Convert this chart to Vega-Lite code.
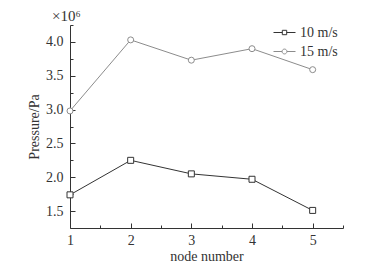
{
  "$schema": "https://vega.github.io/schema/vega-lite/v6.json",
  "autosize": "none",
  "width": 273,
  "height": 203,
  "padding": {"left": 70, "top": 25, "right": 23, "bottom": 40},
  "background": "white",
  "title": {"text": "×10⁶", "anchor": "start", "frame": "group", "dx": -18, "offset": -6, "font": "Liberation Serif", "fontSize": 15, "fontWeight": "normal", "color": "#333"},
  "data": {"values": [
    {"node": 1, "pressure": 1.74, "series": "10 m/s"},
    {"node": 2, "pressure": 2.25, "series": "10 m/s"},
    {"node": 3, "pressure": 2.05, "series": "10 m/s"},
    {"node": 4, "pressure": 1.97, "series": "10 m/s"},
    {"node": 5, "pressure": 1.51, "series": "10 m/s"},
    {"node": 1, "pressure": 2.98, "series": "15 m/s"},
    {"node": 2, "pressure": 4.03, "series": "15 m/s"},
    {"node": 3, "pressure": 3.73, "series": "15 m/s"},
    {"node": 4, "pressure": 3.90, "series": "15 m/s"},
    {"node": 5, "pressure": 3.59, "series": "15 m/s"}
  ]},
  "encoding": {
    "x": {"field": "node", "type": "quantitative",
      "scale": {"domain": [1, 5.5], "nice": false, "zero": false},
      "axis": {"title": "node  number", "values": [1, 1.5, 2, 2.5, 3, 3.5, 4, 4.5, 5, 5.5],
        "labelExpr": "datum.value % 1 == 0 ? format(datum.value, 'd') : ''",
        "tickSize": {"condition": {"test": "datum.value % 1 == 0", "value": -5}, "value": -3},
        "labelPadding": 10, "titlePadding": 0}},
    "y": {"field": "pressure", "type": "quantitative",
      "scale": {"domain": [1.25, 4.25], "nice": false, "zero": false},
      "axis": {"title": "Pressure/Pa", "values": [1.5, 1.75, 2, 2.25, 2.5, 2.75, 3, 3.25, 3.5, 3.75, 4, 4.25],
        "labelExpr": "(datum.value * 2) % 1 == 0 ? format(datum.value, '.1f') : ''",
        "tickSize": {"condition": {"test": "(datum.value * 2) % 1 == 0", "value": -5}, "value": -3},
        "labelPadding": 12, "titlePadding": 4}},
    "color": {"field": "series", "type": "nominal",
      "scale": {"domain": ["10 m/s", "15 m/s"], "range": ["#333333", "#8c8c8c"]}}
  },
  "layer": [
    {"mark": {"type": "line", "strokeWidth": 1},
     "encoding": {"color": {"field": "series", "type": "nominal",
        "scale": {"domain": ["10 m/s", "15 m/s"], "range": ["#333333", "#8c8c8c"]},
        "legend": {"orient": "none", "legendX": 203, "legendY": -4, "title": null,
          "symbolSize": 484, "labelFontSize": 14, "labelFont": "Liberation Serif", "labelColor": "#333",
          "rowPadding": -6, "labelOffset": 4,
          "encode": {"symbols": {"update": {
            "shape": {"signal": "datum.value == '10 m/s' ? 'M-1,0H-0.2M0.2,0H1M-0.2,-0.2H0.2V0.2H-0.2Z' : 'M-1,0H-0.22M0.22,0H1M-0.22,0A0.22,0.22,0,1,1,0.22,0A0.22,0.22,0,1,1,-0.22,0Z'"},
            "fill": {"value": "white"}, "strokeWidth": {"value": 1}}}}}}}},
    {"transform": [{"filter": "datum.series == '10 m/s'"}],
     "mark": {"type": "point", "shape": "square", "filled": false, "fill": "white", "opacity": 1, "size": 36, "strokeWidth": 1},
     "encoding": {"color": {"field": "series", "type": "nominal",
        "scale": {"domain": ["10 m/s", "15 m/s"], "range": ["#333333", "#8c8c8c"]}, "legend": null}}},
    {"transform": [{"filter": "datum.series == '15 m/s'"}],
     "mark": {"type": "point", "shape": "circle", "filled": false, "fill": "white", "opacity": 1, "size": 36, "strokeWidth": 1},
     "encoding": {"color": {"field": "series", "type": "nominal",
        "scale": {"domain": ["10 m/s", "15 m/s"], "range": ["#333333", "#8c8c8c"]}, "legend": null}}}
  ],
  "config": {
    "view": {"stroke": null},
    "axis": {"grid": false, "domainColor": "#333", "tickColor": "#333", "labelFont": "Liberation Serif", "labelFontSize": 14,
      "labelColor": "#333", "titleFont": "Liberation Serif", "titleFontSize": 14, "titleFontWeight": "normal", "titleColor": "#333",
      "labelOverlap": false, "labelFlush": false, "labelBound": false}
  }
}
